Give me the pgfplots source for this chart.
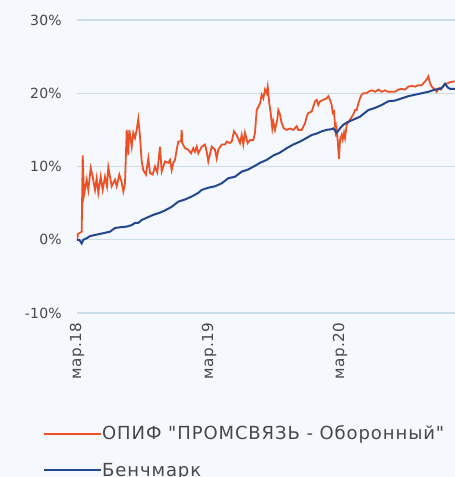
\documentclass[border=0pt]{standalone}
\usepackage{fontspec}
\setmainfont{DejaVu Sans}[Ligatures=TeXOff]
\newfontfamily\legfont{DejaVu Sans}[Ligatures=TeXOff, LetterSpace=5]
\newfontfamily\tickfont{DejaVu Sans}[Ligatures=TeXOff, LetterSpace=2]
\usepackage{pgfplots}
\pgfplotsset{compat=1.18}
\definecolor{bg}{RGB}{245,248,252}
\definecolor{gridc}{RGB}{204,221,233}
\definecolor{fundc}{RGB}{238,81,37}
\definecolor{benchc}{RGB}{36,72,143}
\definecolor{txt}{RGB}{72,72,72}
\begin{document}
\begin{tikzpicture}[x=1pt,y=1pt]
\clip (-77,-164) rectangle (378,313);
\fill[bg] (-77,-164) rectangle (378,313);
\begin{axis}[
  at={(0pt,0pt)}, anchor=south west,
  scale only axis, width=378pt, height=293pt,
  xmin=77, xmax=455, ymin=-10, ymax=30,
  axis line style={draw=none},
  tick style={draw=none},
  ytick={-10,0,10,20,30},
  yticklabels={-10\%,0\%,10\%,20\%,30\%},
  ymajorgrids,
  grid style={color=gridc, line width=1.2pt},
  xtick={77,209,340},
  xticklabels={мар.18,мар.19,мар.20},
  y tick label style={font=\tickfont\fontsize{14}{16}\selectfont, text=txt, inner sep=0pt, xshift=-15pt},
  x tick label style={font=\tickfont\fontsize{15.2}{17}\selectfont, text=txt, rotate=90, anchor=east, inner sep=0pt, xshift=-10pt},
  legend style={at={(-0.09,-0.385)}, anchor=north west, draw=none, fill=none,
    font=\legfont\fontsize{18}{21}\selectfont, text=txt, row sep=22pt, inner sep=0pt,
    nodes={inner sep=0pt, anchor=base west}},
  legend cell align=left,
  legend image code/.code={\draw[#1, line width=1.3pt] (0pt,6.3pt) -- (52pt,6.3pt); \path (0pt,6.3pt) -- (57pt,6.3pt);},
  clip=true,
]
\addplot[color=fundc, line width=1.8pt] coordinates {
(77,0) (78,0.8) (81.7,1.1) (82.7,11.5) (84,6.1) (86.7,8.2) (88.3,6.8) (90.7,9.8)
(92.7,8.6) (95,6.8) (96.7,8.4) (98.3,6.4) (100.7,8.6) (102.7,6.8) (105,8.6) (107,7.3)
(108.3,9.9) (110,8.6) (111.7,7.3) (115,8.2) (116.7,7.3) (119.3,8.9) (121.7,7.8) (123.3,6.6)
(125,7.7) (126.7,15.0) (128.3,11.6) (129.3,15.0) (131.7,12.7) (133.3,14.6) (135,13.9)
(136.7,15.0) (138.3,16.5) (140,14.1) (141.7,10.7) (143.3,9.5) (146,8.9) (148.3,11.1)
(150,9.1) (152.7,8.9) (155,10.0) (157.3,9.2) (160,12.7) (161.7,9.3) (165,10.7) (168.3,10.5)
(170,10.9) (171.7,9.5) (173.3,10.5) (175,10.9) (176.7,12.3) (178.3,13.4) (181,13.4)
(181.7,15.0) (182.3,13.2) (185,12.5) (188.3,12.3) (191,11.8) (193.3,12.5) (195,12.0)
(196.7,12.7) (198.3,11.8) (201.7,12.7) (205,13.0) (206.7,12.0) (208.3,10.7) (211.7,12.7)
(215,12.3) (216.7,11.1) (218.3,12.3) (221.7,13.0) (225,13.0) (226.7,13.4) (230,13.2)
(231.7,13.4) (234,14.8) (236.7,14.3) (240,13.2) (241.7,14.3) (243.3,13.0) (245,14.6)
(247.7,13.2) (250,13.6) (253.3,13.6) (255,14.6) (256.7,17.7) (260,18.6) (261.7,19.8)
(263.3,19.3) (265,20.5) (266.7,20.0) (267.7,20.9) (269.3,18.6) (270.7,17.3) (272.3,15.2)
(273.3,16.1) (275,15.0) (277.3,16.4) (278.3,17.7) (280,17.1) (281.7,15.9) (284,15.2)
(286.7,15.0) (290,15.2) (293.3,15.0) (296.7,15.5) (298.3,15.0) (301.7,15.0) (305,15.9)
(306.7,16.8) (308.3,17.3) (311.7,17.5) (315,18.9) (316.7,19.1) (318.3,18.4) (320,18.9)
(323.3,19.1) (326.7,19.3) (328.3,19.6) (330,19.1) (331.7,18.4) (332.7,17.3) (334,17.5)
(335,15.7) (336,14.1) (336.7,15.0) (337.7,13.6) (339,11.0) (340,13.6) (341.7,14.3)
(342.7,13.7) (344,14.6) (345,13.9) (346.7,15.7) (350,16.4) (353.3,17.1) (355,17.7)
(356.7,17.7) (358.3,18.6) (360,19.3) (361.7,19.8) (363.3,20.0) (366.7,20.0) (368.3,20.2)
(371.7,20.4) (375,20.2) (378.3,20.5) (381.7,20.2) (385,20.4) (388.3,20.2) (391.7,20.2)
(395,20.2) (398.3,20.5) (401.7,20.6) (405,20.5) (408.3,20.9) (411.7,21.0) (415,20.9)
(418.3,21.1) (421.7,21.1) (425,21.6) (426.7,21.9) (428.3,22.3) (430,21.4) (431.7,20.9)
(434.3,20.6) (436.7,20.2) (439,20.7) (441,20.5) (443.3,21.0) (446.7,21.3) (450,21.5)
(453.3,21.6) (455,21.6)
};
\addlegendentry{ОПИФ "ПРОМСВЯЗЬ - Оборонный"}
\addplot[color=benchc, line width=2pt] coordinates {
(77,0) (79.3,0) (81.7,-0.5) (83.3,0) (86.7,0.2) (90,0.5) (96.7,0.7) (103.3,0.9) (110,1.1)
(115,1.6) (120,1.7) (126.7,1.8) (131.7,2.0) (135,2.3) (138.3,2.3) (141.7,2.7) (146.7,3.0)
(153.3,3.4) (160,3.7) (165,4.0) (171.7,4.5) (178.3,5.2) (185,5.5) (191.7,5.9) (198.3,6.4)
(201.7,6.8) (208.3,7.1) (215,7.3) (221.7,7.7) (228.3,8.4) (235,8.6) (241.7,9.3) (248.3,9.6)
(255,10.1) (260,10.5) (266.7,10.9) (273.3,11.5) (280,11.9) (286.7,12.5) (293.3,13.0)
(300,13.4) (306.7,13.9) (311.7,14.3) (316.7,14.5) (321.7,14.8) (326.7,15.0) (331.7,15.1)
(333.3,15.2) (336.7,14.6) (340,15.2) (343.3,15.7) (346.7,16.0) (353.3,16.4) (360,16.8)
(368.3,17.7) (375,18.0) (381.7,18.4) (388.3,18.9) (395,19.0) (401.7,19.3) (408.3,19.6)
(415,19.8) (421.7,20.0) (428.3,20.2) (435,20.5) (440,20.6) (442.3,20.8) (445,21.3)
(447.7,20.8) (450,20.6) (455,20.6)
};
\addlegendentry{Бенчмарк}
\end{axis}
\end{tikzpicture}
\end{document}
